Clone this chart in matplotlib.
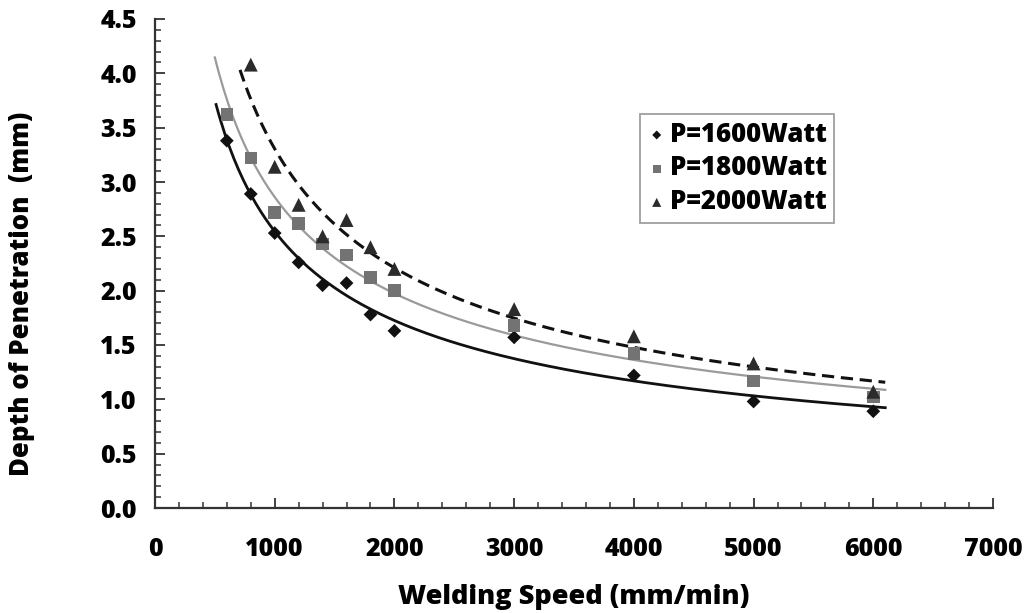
import numpy as np
import matplotlib
matplotlib.use("Agg")
import matplotlib.pyplot as plt
from matplotlib.ticker import MultipleLocator

# ---- data ----
speed = [600, 800, 1000, 1200, 1400, 1600, 1800, 2000, 3000, 4000, 5000, 6000]
depth_1600 = [3.38, 2.89, 2.53, 2.26, 2.05, 2.07, 1.78, 1.63, 1.57, 1.22, 0.98, 0.89]
depth_1800 = [3.62, 3.22, 2.72, 2.62, 2.43, 2.33, 2.12, 2.00, 1.68, 1.42, 1.17, 1.02]
depth_2000 = [None, 4.08, 3.14, 2.79, 2.50, 2.65, 2.40, 2.20, 1.83, 1.58, 1.33, 1.07]
labels = ["P=1600Watt", "P=1800Watt", "P=2000Watt"]
trend_start = [510, 500, 710]
trend_end = 6100

xticks = [0, 1000, 2000, 3000, 4000, 5000, 6000, 7000]
yticks = [0.0, 0.5, 1.0, 1.5, 2.0, 2.5, 3.0, 3.5, 4.0, 4.5]

FONT = "Open Sans"

fig = plt.figure(figsize=(10.30, 6.13), dpi=100)
ax = fig.add_axes([155/1030, 1 - 508/613, (993-155)/1030, (508-19)/613])

series = [depth_1600, depth_1800, depth_2000]
markers = ["D", "s", "^"]
msizes = [7, 9, 10]
mcolors = ["#111111", "#737373", "#2b2b2b"]
lcolors = ["#111111", "#9a9a9a", "#111111"]
lstyles = ["-", "-", (0, (4, 2.2))]
lwidths = [2.0, 1.6, 2.2]

handles = []
for ys, m, ms, mc, lc, ls, lw, lab, xs0 in zip(series, markers, msizes, mcolors,
                                                   lcolors, lstyles, lwidths, labels, trend_start):
    x = np.array([s for s, v in zip(speed, ys) if v is not None], dtype=float)
    y = np.array([v for v in ys if v is not None], dtype=float)
    b, lna = np.polyfit(np.log(x), np.log(y), 1)
    xf = np.linspace(xs0, trend_end, 300)
    yf = np.exp(lna) * xf ** b
    ax.plot(xf, yf, color=lc, linestyle=ls, lw=lw, zorder=2)
    h = ax.scatter(x, y, marker=m, s=ms**2, color=mc, edgecolors='none', zorder=3, label=lab)
    handles.append(h)

ax.set_xlim(0, 7000)
ax.set_ylim(0, 4.5)
ax.set_xticks(xticks)
ax.set_yticks(yticks)
ax.xaxis.set_minor_locator(MultipleLocator(200))
ax.yaxis.set_minor_locator(MultipleLocator(0.1))
ax.set_yticklabels([f"{v:.1f}" for v in yticks])
ax.set_xticklabels([str(v) for v in xticks])

for s in ["top", "right"]:
    ax.spines[s].set_visible(False)
for s in ["left", "bottom"]:
    ax.spines[s].set_linewidth(1.6)
    ax.spines[s].set_color("#333333")

ax.tick_params(axis="x", which="major", direction="in", length=7, width=1.3, pad=21, colors="#333333")
ax.tick_params(axis="x", which="minor", direction="in", length=4, width=1.1, colors="#333333")
ax.tick_params(axis="y", which="major", direction="in", length=7, width=1.3, pad=13, colors="#333333")
ax.tick_params(axis="y", which="minor", direction="in", length=4, width=1.1, colors="#333333")
for t in ax.get_xticklabels() + ax.get_yticklabels():
    t.set_fontfamily(FONT)
    t.set_fontweight("heavy")
    t.set_fontsize(18)
    t.set_color("black")

fig.text(574/1030, 1 - 597/613, "Welding Speed (mm/min)", ha="center", va="center",
         fontfamily=FONT, fontweight="heavy", fontsize=19.5)
fig.text(22/1030, 1 - 294/613, "Depth of Penetration  (mm)", ha="center", va="center",
         rotation=90, fontfamily=FONT, fontweight="heavy", fontsize=18.5)

leg = ax.legend(handles=handles, loc="upper left", bbox_to_anchor=((640-155)/838, 1 - (114-19)/489),
                frameon=True, fancybox=False, edgecolor="#888888", markerscale=0.65,
                handletextpad=0.15, handlelength=0.7, borderpad=0.3, labelspacing=0.3,
                borderaxespad=0.0,
                prop={"family": FONT, "weight": "heavy", "size": 18.5})
leg.get_frame().set_linewidth(1.3)

fig.savefig("out.png", dpi=100, facecolor="white")
